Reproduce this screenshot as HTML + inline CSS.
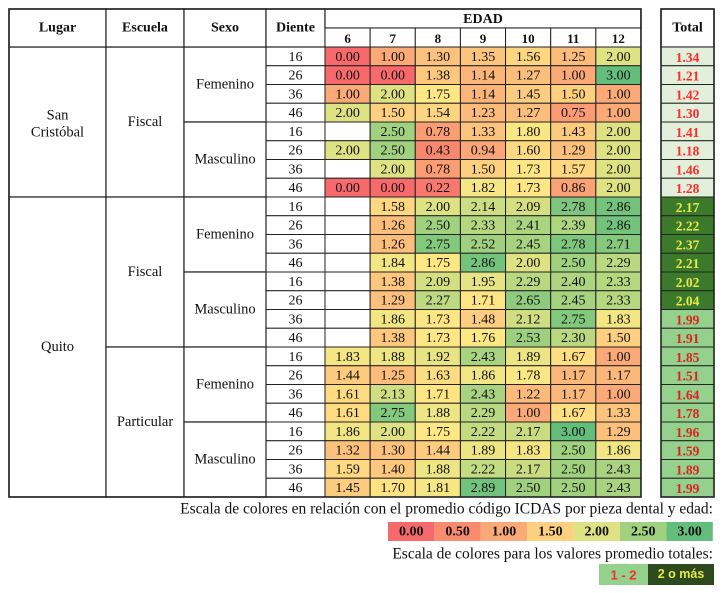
<!DOCTYPE html>
<html><head><meta charset="utf-8">
<style>
html,body{margin:0;padding:0;background:#fff;}
svg{display:block;font-family:"Liberation Serif",serif;}
</style></head>
<body>
<svg id="chart" width="722" height="593" viewBox="0 0 722 593" xmlns="http://www.w3.org/2000/svg"></svg>
<script>
const ages = ["6","7","8","9","10","11","12"];
const teeth = ["16","26","36","46","16","26","36","46","16","26","36","46","16","26","36","46","16","26","36","46","16","26","36","46"];
const values = [
 [0.00,1.00,1.30,1.35,1.56,1.25,2.00],
 [0.00,0.00,1.38,1.14,1.27,1.00,3.00],
 [1.00,2.00,1.75,1.14,1.45,1.50,1.00],
 [2.00,1.50,1.54,1.23,1.27,0.75,1.00],
 [null,2.50,0.78,1.33,1.80,1.43,2.00],
 [2.00,2.50,0.43,0.94,1.60,1.29,2.00],
 [null,2.00,0.78,1.50,1.73,1.57,2.00],
 [0.00,0.00,0.22,1.82,1.73,0.86,2.00],
 [null,1.58,2.00,2.14,2.09,2.78,2.86],
 [null,1.26,2.50,2.33,2.41,2.39,2.86],
 [null,1.26,2.75,2.52,2.45,2.78,2.71],
 [null,1.84,1.75,2.86,2.00,2.50,2.29],
 [null,1.38,2.09,1.95,2.29,2.40,2.33],
 [null,1.29,2.27,1.71,2.65,2.45,2.33],
 [null,1.86,1.73,1.48,2.12,2.75,1.83],
 [null,1.38,1.73,1.76,2.53,2.30,1.50],
 [1.83,1.88,1.92,2.43,1.89,1.67,1.00],
 [1.44,1.25,1.63,1.86,1.78,1.17,1.17],
 [1.61,2.13,1.71,2.43,1.22,1.17,1.00],
 [1.61,2.75,1.88,2.29,1.00,1.67,1.33],
 [1.86,2.00,1.75,2.22,2.17,3.00,1.29],
 [1.32,1.30,1.44,1.89,1.83,2.50,1.86],
 [1.59,1.40,1.88,2.22,2.17,2.50,2.43],
 [1.45,1.70,1.81,2.89,2.50,2.50,2.43]
];
const totals = [1.34,1.21,1.42,1.30,1.41,1.18,1.46,1.28,2.17,2.22,2.37,2.21,2.02,2.04,1.99,1.91,1.85,1.51,1.64,1.78,1.96,1.59,1.89,1.99];
const scaleLabels = ["0.00","0.50","1.00","1.50","2.00","2.50","3.00"];
const scaleValues = [0,0.5,1,1.5,2,2.5,3];

const stops=[[0,[248,105,107]],[0.5,[249,140,111]],[1,[251,170,119]],[1.5,[253,208,127]],[1.75,[255,232,132]],[2,[223,226,131]],[2.5,[160,209,127]],[3,[99,190,123]]];
function color(v){
  for(let i=0;i<stops.length-1;i++){
    const [a,ca]=stops[i],[b,cb]=stops[i+1];
    if(v<=b){const t=(v-a)/(b-a);return 'rgb('+ca.map((c,k)=>Math.round(c+(cb[k]-c)*t)).join(',')+')';}
  }
  return 'rgb(99,190,123)';
}
const svg=document.getElementById('chart');
const NS='http://www.w3.org/2000/svg';
function el(tag,attrs,parent){const e=document.createElementNS(NS,tag);for(const k in attrs)e.setAttribute(k,attrs[k]);(parent||svg).appendChild(e);return e;}
function txt(x,y,s,attrs){const t=el('text',Object.assign({x:x,y:y,'text-anchor':'middle','dominant-baseline':'central','font-size':13,fill:'#111'},attrs||{}));t.textContent=s;return t;}

const top0=9, hdrMid=28, rowTop=47, rowH=18.75, nRows=teeth.length;
const colX=[9,106,184,266,325];
const ageX0=325, ageW=45.14;
const totX0=661, totX1=714;
const yOf=i=>rowTop+i*rowH;
const xAge=j=>ageX0+j*ageW;
const bottom=yOf(nRows);

values.forEach((row,i)=>{
  row.forEach((v,j)=>{
    const r=el('rect',{x:xAge(j),y:yOf(i),width:ageW,height:rowH,fill:v===null?'#fff':color(v),stroke:'#222','stroke-width':1});
    
    
    if(v!==null){const t=txt(xAge(j)+ageW/2,yOf(i)+rowH/2+1,v.toFixed(2),{'font-size':14});
      
      }
  });
});
teeth.forEach((d,i)=>{
  const r=el('rect',{x:colX[3],y:yOf(i),width:colX[4]-colX[3],height:rowH,fill:'#fff',stroke:'#222','stroke-width':1});
  
  
  const t=txt((colX[3]+colX[4])/2,yOf(i)+rowH/2+1,d,{'font-size':14});
  
  
});
function merged(c0,c1,r0,r1,label,name,dy){
  const r=el('rect',{x:c0,y:yOf(r0),width:c1-c0,height:(r1-r0)*rowH,fill:'#fff',stroke:'#222','stroke-width':1.2});
  
  
  const lines=label.split('\n');
  const cy=(yOf(r0)+yOf(r1))/2+(dy||0);
  lines.forEach((l,k)=>{const t=txt((c0+c1)/2,cy+(k-(lines.length-1)/2)*17,l,{'font-size':14.5});
    
    });
}
merged(colX[0],colX[1],0,8,'San\nCristóbal','lugar-san-cristobal',2);
merged(colX[0],colX[1],8,24,'Quito','lugar-quito');
merged(colX[1],colX[2],0,8,'Fiscal','escuela-fiscal-sc');
merged(colX[1],colX[2],8,16,'Fiscal','escuela-fiscal-quito');
merged(colX[1],colX[2],16,24,'Particular','escuela-particular');
for(let g=0;g<6;g++){merged(colX[2],colX[3],g*4,g*4+4,g%2===0?'Femenino':'Masculino',g%2===0?'sexo-femenino':'sexo-masculino');}

const heads=['Lugar','Escuela','Sexo','Diente'];
heads.forEach((h,k)=>{
  const r=el('rect',{x:colX[k],y:top0,width:colX[k+1]-colX[k],height:rowTop-top0,fill:'#fff',stroke:'#222','stroke-width':1.2});
  
  
  const t=txt((colX[k]+colX[k+1])/2,(top0+rowTop)/2,h,{'font-weight':'bold','font-size':14});
  
  
});
const er=el('rect',{x:ageX0,y:top0,width:ageW*7,height:hdrMid-top0,fill:'#fff',stroke:'#222','stroke-width':1.2});


const et=txt(ageX0+ageW*3.5,(top0+hdrMid)/2+1,'EDAD',{'font-weight':'bold','font-size':14});


ages.forEach((a,j)=>{
  const r=el('rect',{x:xAge(j),y:hdrMid,width:ageW,height:rowTop-hdrMid,fill:'#fff',stroke:'#222','stroke-width':1});
  
  
  const t=txt(xAge(j)+ageW/2,(hdrMid+rowTop)/2+1,a,{'font-weight':'bold','font-size':13});
  
  
});
const ob=el('rect',{x:colX[0],y:top0,width:xAge(7)-colX[0],height:bottom-top0,fill:'none',stroke:'#222','stroke-width':1.6});



const th=el('rect',{x:totX0,y:top0,width:totX1-totX0,height:rowTop-top0,fill:'#fff',stroke:'#222','stroke-width':1.2});


const tt=txt((totX0+totX1)/2,(top0+rowTop)/2,'Total',{'font-weight':'bold','font-size':14});


totals.forEach((v,i)=>{
  let fill,fc;
  if(v>=2){fill='#3b7a2b';fc='#e8e84a';}
  else if(i<8){fill='#e2efda';fc='#ff2a2a';}
  else {fill='#93d18c';fc='#e02020';}
  const r=el('rect',{x:totX0,y:yOf(i),width:totX1-totX0,height:rowH,fill:fill,stroke:'#222','stroke-width':1});
  
  
  const t=txt((totX0+totX1)/2,yOf(i)+rowH/2+1,v.toFixed(2),{'font-weight':'bold','font-size':13.5,fill:fc});
  
  
});
const tb=el('rect',{x:totX0,y:top0,width:totX1-totX0,height:bottom-top0,fill:'none',stroke:'#222','stroke-width':1.6});



const l1=txt(713,509,'Escala de colores en relación con el promedio código ICDAS por pieza dental y edad:',{'text-anchor':'end','font-size':15.5});


const lw=46.4;
scaleValues.forEach((v,k)=>{
  const x=388+k*lw;
  const r=el('rect',{x:x,y:522,width:lw,height:19,fill:color(v)});
  
  
  const t=txt(x+lw/2,532,scaleLabels[k],{'font-weight':'bold','font-size':14});
  
  
});
const l2=txt(713,554,'Escala de colores para los valores promedio totales:',{'text-anchor':'end','font-size':15.5});


const s1=el('rect',{x:599,y:564,width:49,height:21,fill:'#93d18c'});


const s1t=txt(623.5,575,'1 - 2',{'font-family':'Liberation Sans, sans-serif','font-weight':'bold','font-size':13,fill:'#ff2a2a'});


const s2=el('rect',{x:648,y:564,width:66,height:21,fill:'#2d4a1e'});


const s2t=txt(681,574,'2 o más',{'font-family':'Liberation Sans, sans-serif','font-weight':'bold','font-size':12.5,fill:'#e8e84a'});


</script>
</body></html>
